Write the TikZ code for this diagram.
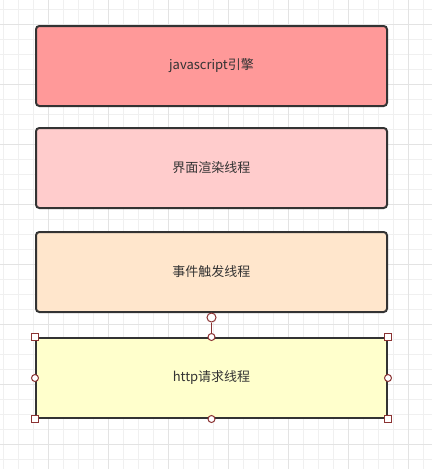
\documentclass[tikz,border=0pt]{standalone}
\usepackage{fontspec}
\setmainfont{Noto Sans CJK SC}
\definecolor{gridminor}{HTML}{F0F0F0}
\definecolor{gridmajor}{HTML}{E3E3E3}
\definecolor{boxline}{HTML}{333333}
\definecolor{txt}{HTML}{333333}
\definecolor{fillA}{HTML}{FF9999}
\definecolor{fillB}{HTML}{FFCCCC}
\definecolor{fillC}{HTML}{FFE6CC}
\definecolor{fillD}{HTML}{FFFFCC}
\definecolor{handle}{RGB}{139,51,51}
\begin{document}
\begin{tikzpicture}[x=0.75pt,y=-0.75pt,
  minorline/.style={draw=gridminor,line width=0.75pt},
  majorline/.style={draw=gridmajor,line width=0.75pt},
  box/.style={draw=boxline,line width=1.5pt,rounded corners=2.5pt,
    minimum width=263.25pt,minimum height=60pt,inner sep=0pt,
    text=txt,font=\fontsize{9.75pt}{12pt}\selectfont},
  selbox/.style={box,rounded corners=0pt},
  sqhandle/.style={draw=handle,fill=white,line width=0.75pt,
    minimum size=5.25pt,inner sep=0pt,rectangle},
  cirhandle/.style={draw=handle,fill=white,line width=0.75pt,
    minimum size=5.25pt,inner sep=0pt,circle},
  rothandle/.style={draw=handle,fill=white,line width=0.75pt,
    minimum size=6.75pt,inner sep=0pt,circle},
  handlelink/.style={draw=handle,line width=0.75pt}]
\useasboundingbox (0,0) rectangle (432,469);
\fill[white] (0,0) rectangle (432,469);
% grid
\foreach \i in {0,...,28} \draw[minorline] ({3.3+15*\i},0) -- ({3.3+15*\i},469);
\foreach \j in {0,...,30} \draw[minorline] (0,{9.3+15*\j}) -- (432,{9.3+15*\j});
\foreach \i in {0,...,6} \draw[majorline] ({48.3+60*\i},0) -- ({48.3+60*\i},469);
\foreach \j in {0,...,7} \draw[majorline] (0,{24.3+60*\j}) -- (432,{24.3+60*\j});
% boxes
\node[box,fill=fillA] (js) at (211.5,66) {javascript引擎};
\node[box,fill=fillB] (gui) at (211.5,168) {界面渲染线程};
\node[box,fill=fillC] (evt) at (211.5,272) {事件触发线程};
\node[selbox,fill=fillD] (http) at (211.5,378) {http请求线程};
% selection handles
\node[rothandle] (rot) at (211.5,317.5) {};
\draw[handlelink] (rot) -- (http.north);
\node[sqhandle] (hnw) at (http.north west) {};
\node[sqhandle] (hne) at (http.north east) {};
\node[sqhandle] (hsw) at (http.south west) {};
\node[sqhandle] (hse) at (http.south east) {};
\node[cirhandle] (hn) at (http.north) {};
\node[cirhandle] (hs) at (http.south) {};
\node[cirhandle] (hw) at (http.west) {};
\node[cirhandle] (he) at (http.east) {};
\end{tikzpicture}
\end{document}
